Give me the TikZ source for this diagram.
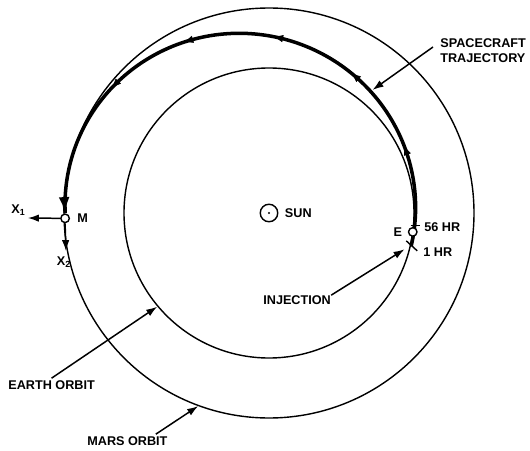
\documentclass[tikz,border=0pt]{standalone}
\usepackage{fontspec}
\setmainfont{Liberation Sans}
\usetikzlibrary{arrows.meta,positioning,calc}
\tikzset{
  orbitline/.style={line width=0.8pt, draw=black},
  trajline/.style={line width=2pt, draw=black},
  pointer/.style={-{Latex[length=2.2mm,width=1.5mm]}, line width=0.85pt, shorten >=0.5pt},
  flowtip/.style={-{Latex[length=1.9mm,width=1.5mm]}, line width=0.4pt},
  tag/.style={font=\bfseries\fontsize{7.2}{8.4}\selectfont, inner sep=0pt, align=left}
}
% radius of the transfer ellipse at a given angle
\newcommand{\trajrad}[1]{170.5/(1+0.168*cos(#1+13))}

\begin{document}
\begin{tikzpicture}[x=0.02cm, y=0.02cm,
  planet/.style={circle, draw, line width=0.8pt, fill=white, inner sep=0pt, minimum size=1.7mm},
  sunmark/.style={circle, draw, line width=0.8pt, inner sep=0pt, minimum size=3.5mm},
  tickmark/.style={line width=0.8pt, draw=black}
]
\useasboundingbox (0,0) rectangle (530,450);
\coordinate (ctr) at (269,237);

% Orbits of earth and mars
\draw[orbitline] (ctr) circle[radius=145];
\draw[orbitline] (ctr) circle[radius=205];

% Sun in the middle
\node[sunmark] (sun) at (ctr) {};
\fill (sun.center) circle[radius=1.2];
\node[tag, right=3.5pt of sun] (sunlabel) {SUN};

% Transfer ellipse from injection to arrival
\begin{scope}[shift={(ctr)}]
\draw[trajline, -{Latex[length=3.2mm,width=2.2mm]}, shorten >=3pt]
  plot[domain=-13:181.5, samples=100, smooth] (\x:{\trajrad{\x}});
\foreach \a in {25,58,87,115,140}
  \draw[flowtip] (\a:{\trajrad{\a}}) -- ({\a+1.5}:{\trajrad{\a+1.5}});
\end{scope}

% Planets at departure and arrival
\node[planet] (earth) at ($(ctr)+(-7.5:145)$) {};
\node[planet] (mars) at ($(ctr)+(181.5:204)$) {};
\node[tag, left=3pt of earth] (elabel) {E};
\node[tag, right=4pt of mars] (mlabel) {M};

% Injection cross and 56 hr tick
\coordinate (injpt) at ($(ctr)+(-13:146)$);
\coordinate (tick56) at ($(ctr)+(-5:146.2)$);
\draw[tickmark] ([shift={(-5,5)}]injpt) -- ([shift={(6,-5)}]injpt);
\draw[tickmark] ([shift={(-4,0)}]tick56) -- ([shift={(5,0)}]tick56);
\node[tag, anchor=west] (hr56) at (424,223) {56 HR};
\node[tag, anchor=west] (hr1) at (423,198) {1 HR};

% Axes at mars
\coordinate (xonetip) at (27,232);
\coordinate (xtwotip) at (66,198);
\draw[pointer] (mars.west) -- (xonetip);
\draw[pointer] (mars.south) -- (xtwotip);
\node[tag, anchor=east] (xone) at (26,240) {X\textsubscript{1}};
\node[tag, anchor=north] (xtwo) at (64,194) {X\textsubscript{2}};

% Labels with pointers
\node[tag, anchor=west] (traj) at (440,399) {SPACECRAFT\\TRAJECTORY};
\coordinate (trajpt) at ($(ctr)+(50:160)$);
\draw[pointer] (433,403) -- (trajpt);

\node[tag, anchor=west] (inj) at (263,150) {INJECTION};
\draw[pointer] (inj.north east) -- ([shift={(-6,-3)}]injpt);

\node[tag, anchor=west] (eorbit) at (8,65) {EARTH ORBIT};
\coordinate (eorbitpt) at ($(ctr)+(220:145)$);
\draw[pointer] (eorbit.north) ++(0,2) -- (eorbitpt);

\node[tag, anchor=west] (morbit) at (87,9) {MARS ORBIT};
\coordinate (morbitpt) at ($(ctr)+(250:205)$);
\draw[pointer] (morbit.north east) ++(-12,2) -- (morbitpt);
\end{tikzpicture}
\end{document}
